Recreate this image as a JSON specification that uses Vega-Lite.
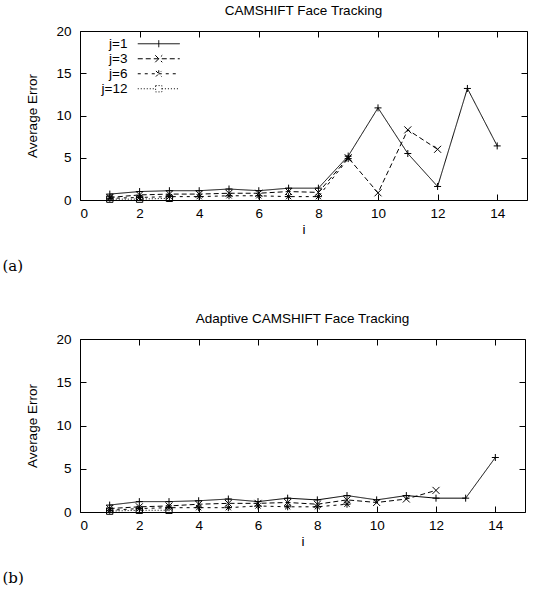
{
  "$schema": "https://vega.github.io/schema/vega-lite/v6.json",
  "padding": {"left": 2, "top": 3, "right": 2, "bottom": 2},
  "background": "white",
  "config": {
    "font": "Liberation Sans",
    "view": {"stroke": "black", "strokeWidth": 1},
    "axis": {"grid": false, "domain": false, "tickColor": "black", "tickSize": -6, "labelColor": "black", "labelFontSize": 13.5, "titleFontSize": 13.5, "titleFontWeight": "normal", "titleColor": "black", "labelFont": "Liberation Sans", "titleFont": "Liberation Sans"},
    "title": {"fontSize": 13.5, "fontWeight": "normal", "font": "Liberation Sans", "color": "black"},
    "legend": {"symbolSize": 49, "symbolStrokeColor": "black", "symbolStrokeWidth": 1, "labelAlign": "right", "labelOffset": -38, "labelFontSize": 13.5, "labelColor": "black", "rowPadding": 0, "labelFont": "Liberation Sans"},
    "concat": {"spacing": 37}
  },
  "datasets": {
    "a": [
      {"i":1,"err":0.7,"j":"j=1"},{"i":2,"err":1.0,"j":"j=1"},{"i":3,"err":1.1,"j":"j=1"},{"i":4,"err":1.1,"j":"j=1"},{"i":5,"err":1.3,"j":"j=1"},{"i":6,"err":1.1,"j":"j=1"},{"i":7,"err":1.4,"j":"j=1"},{"i":8,"err":1.4,"j":"j=1"},{"i":9,"err":5.2,"j":"j=1"},{"i":10,"err":10.9,"j":"j=1"},{"i":11,"err":5.5,"j":"j=1"},{"i":12,"err":1.6,"j":"j=1"},{"i":13,"err":13.2,"j":"j=1"},{"i":14,"err":6.4,"j":"j=1"},
      {"i":1,"err":0.3,"j":"j=3"},{"i":2,"err":0.6,"j":"j=3"},{"i":3,"err":0.7,"j":"j=3"},{"i":4,"err":0.7,"j":"j=3"},{"i":5,"err":0.8,"j":"j=3"},{"i":6,"err":0.8,"j":"j=3"},{"i":7,"err":1.0,"j":"j=3"},{"i":8,"err":0.9,"j":"j=3"},{"i":9,"err":5.0,"j":"j=3"},{"i":10,"err":0.85,"j":"j=3"},{"i":11,"err":8.3,"j":"j=3"},{"i":12,"err":6.0,"j":"j=3"},
      {"i":1,"err":0.2,"j":"j=6"},{"i":2,"err":0.3,"j":"j=6"},{"i":3,"err":0.4,"j":"j=6"},{"i":4,"err":0.4,"j":"j=6"},{"i":5,"err":0.5,"j":"j=6"},{"i":6,"err":0.5,"j":"j=6"},{"i":7,"err":0.4,"j":"j=6"},{"i":8,"err":0.4,"j":"j=6"},{"i":9,"err":4.9,"j":"j=6"},
      {"i":1,"err":0.1,"j":"j=12"},{"i":2,"err":0.1,"j":"j=12"},{"i":3,"err":0.2,"j":"j=12"}
    ],
    "b": [
      {"i":1,"err":0.8,"j":"j=1"},{"i":2,"err":1.2,"j":"j=1"},{"i":3,"err":1.2,"j":"j=1"},{"i":4,"err":1.3,"j":"j=1"},{"i":5,"err":1.5,"j":"j=1"},{"i":6,"err":1.2,"j":"j=1"},{"i":7,"err":1.6,"j":"j=1"},{"i":8,"err":1.4,"j":"j=1"},{"i":9,"err":1.9,"j":"j=1"},{"i":10,"err":1.4,"j":"j=1"},{"i":11,"err":1.9,"j":"j=1"},{"i":12,"err":1.6,"j":"j=1"},{"i":13,"err":1.6,"j":"j=1"},{"i":14,"err":6.3,"j":"j=1"},
      {"i":1,"err":0.4,"j":"j=3"},{"i":2,"err":0.6,"j":"j=3"},{"i":3,"err":0.7,"j":"j=3"},{"i":4,"err":0.9,"j":"j=3"},{"i":5,"err":1.0,"j":"j=3"},{"i":6,"err":1.0,"j":"j=3"},{"i":7,"err":1.1,"j":"j=3"},{"i":8,"err":0.9,"j":"j=3"},{"i":9,"err":1.4,"j":"j=3"},{"i":10,"err":1.1,"j":"j=3"},{"i":11,"err":1.5,"j":"j=3"},{"i":12,"err":2.5,"j":"j=3"},
      {"i":1,"err":0.2,"j":"j=6"},{"i":2,"err":0.4,"j":"j=6"},{"i":3,"err":0.5,"j":"j=6"},{"i":4,"err":0.5,"j":"j=6"},{"i":5,"err":0.5,"j":"j=6"},{"i":6,"err":0.7,"j":"j=6"},{"i":7,"err":0.6,"j":"j=6"},{"i":8,"err":0.6,"j":"j=6"},{"i":9,"err":0.9,"j":"j=6"},
      {"i":1,"err":0.1,"j":"j=12"},{"i":2,"err":0.2,"j":"j=12"},{"i":3,"err":0.2,"j":"j=12"}
    ]
  },
  "vconcat": [
    {
      "title": {"text": "(a)", "orient": "bottom", "anchor": "start", "frame": "bounds", "font": "DejaVu Serif", "fontSize": 15, "dx": -23, "offset": 22},
      "vconcat": [
        {
          "title": {"text": "CAMSHIFT Face Tracking", "offset": 7},
          "width": 447,
          "height": 169,
          "data": {"name": "a"},
          "resolve": {"axis": {"x": "independent", "y": "independent"}},
          "layer": [
            {
              "mark": {"type": "line", "color": "black", "strokeWidth": 1},
              "encoding": {
                "x": {"field": "i", "type": "quantitative", "scale": {"domain": [0, 15], "nice": false}, "axis": {"orient": "bottom", "values": [0,2,4,6,8,10,12,14], "title": "i", "labelPadding": 12, "titlePadding": 3}},
                "y": {"field": "err", "type": "quantitative", "scale": {"domain": [0, 20], "nice": false}, "axis": {"orient": "left", "values": [0,5,10,15,20], "title": "Average Error", "labelPadding": 15, "titlePadding": 16}},
                "strokeDash": {"field": "j", "type": "nominal", "scale": {"domain": ["j=1","j=3","j=6","j=12"], "range": [[1,0],[5,3],[3,4],[1,2]]},
                  "legend": {"title": null, "orient": "none", "legendX": 72, "legendY": 6,
                    "encode": {"symbols": {"update": {"shape": {"signal": "datum.value === 'j=1' ? 'M-6,0H6M0,-1V1' : datum.value === 'j=3' ? 'M-6,0H6M-1,-1L1,1M-1,1L1,-1' : datum.value === 'j=6' ? 'M-6,0H6M0,-1V1M-0.8,-0.8L0.8,0.8M-0.8,0.8L0.8,-0.8' : 'M-6,0H-0.9M0.9,0H6M-0.9,-0.9H0.9V0.9H-0.9Z'"}, "fill": {"value": "transparent"}, "stroke": {"value": "black"}}}}}}
              }
            },
            {
              "transform": [{"filter": "datum.j === 'j=1'"}],
              "mark": {"type": "point", "filled": false, "color": "black", "strokeWidth": 1, "size": 49, "opacity": 1, "shape": "M-1,0H1M0,-1V1"},
              "encoding": {"x": {"field": "i", "type": "quantitative", "axis": null}, "y": {"field": "err", "type": "quantitative", "axis": null}}
            },
            {
              "transform": [{"filter": "datum.j === 'j=3'"}],
              "mark": {"type": "point", "filled": false, "color": "black", "strokeWidth": 1, "size": 49, "opacity": 1, "shape": "M-1,-1L1,1M-1,1L1,-1"},
              "encoding": {"x": {"field": "i", "type": "quantitative", "axis": null}, "y": {"field": "err", "type": "quantitative", "axis": null}}
            },
            {
              "transform": [{"filter": "datum.j === 'j=6'"}],
              "mark": {"type": "point", "filled": false, "color": "black", "strokeWidth": 1, "size": 49, "opacity": 1, "shape": "M-1,0H1M0,-1V1M-0.75,-0.75L0.75,0.75M-0.75,0.75L0.75,-0.75"},
              "encoding": {"x": {"field": "i", "type": "quantitative", "axis": null}, "y": {"field": "err", "type": "quantitative", "axis": null}}
            },
            {
              "transform": [{"filter": "datum.j === 'j=12'"}],
              "mark": {"type": "point", "filled": false, "color": "black", "strokeWidth": 1, "size": 40, "opacity": 1, "shape": "square"},
              "encoding": {"x": {"field": "i", "type": "quantitative", "axis": null}, "y": {"field": "err", "type": "quantitative", "axis": null}}
            },
            {
              "mark": {"type": "point", "opacity": 0},
              "encoding": {
                "x": {"field": "i", "type": "quantitative", "axis": {"orient": "top", "values": [0,2,4,6,8,10,12,14], "labels": false, "title": null}},
                "y": {"field": "err", "type": "quantitative", "axis": {"orient": "right", "values": [0,5,10,15,20], "labels": false, "title": null}}
              }
            }
          ]
        }
      ]
    },
    {
      "title": {"text": "(b)", "orient": "bottom", "anchor": "start", "frame": "bounds", "font": "DejaVu Serif", "fontSize": 15, "dx": -23, "offset": 22},
      "vconcat": [
        {
          "title": {"text": "Adaptive CAMSHIFT Face Tracking", "offset": 7},
          "width": 445,
          "height": 173,
          "data": {"name": "b"},
          "resolve": {"axis": {"x": "independent", "y": "independent"}},
          "layer": [
            {
              "mark": {"type": "line", "color": "black", "strokeWidth": 1},
              "encoding": {
                "x": {"field": "i", "type": "quantitative", "scale": {"domain": [0, 15], "nice": false}, "axis": {"orient": "bottom", "values": [0,2,4,6,8,10,12,14], "title": "i", "labelPadding": 12, "titlePadding": 3}},
                "y": {"field": "err", "type": "quantitative", "scale": {"domain": [0, 20], "nice": false}, "axis": {"orient": "left", "values": [0,5,10,15,20], "title": "Average Error", "labelPadding": 15, "titlePadding": 16}},
                "strokeDash": {"field": "j", "type": "nominal", "scale": {"domain": ["j=1","j=3","j=6","j=12"], "range": [[1,0],[5,3],[3,4],[1,2]]},
                  "legend": {"title": null, "orient": "none", "legendX": 72, "legendY": 6,
                    "encode": {"symbols": {"update": {"shape": {"signal": "datum.value === 'j=1' ? 'M-6,0H6M0,-1V1' : datum.value === 'j=3' ? 'M-6,0H6M-1,-1L1,1M-1,1L1,-1' : datum.value === 'j=6' ? 'M-6,0H6M0,-1V1M-0.8,-0.8L0.8,0.8M-0.8,0.8L0.8,-0.8' : 'M-6,0H-0.9M0.9,0H6M-0.9,-0.9H0.9V0.9H-0.9Z'"}, "fill": {"value": "transparent"}, "stroke": {"value": "black"}}}}}}
              }
            },
            {
              "transform": [{"filter": "datum.j === 'j=1'"}],
              "mark": {"type": "point", "filled": false, "color": "black", "strokeWidth": 1, "size": 49, "opacity": 1, "shape": "M-1,0H1M0,-1V1"},
              "encoding": {"x": {"field": "i", "type": "quantitative", "axis": null}, "y": {"field": "err", "type": "quantitative", "axis": null}}
            },
            {
              "transform": [{"filter": "datum.j === 'j=3'"}],
              "mark": {"type": "point", "filled": false, "color": "black", "strokeWidth": 1, "size": 49, "opacity": 1, "shape": "M-1,-1L1,1M-1,1L1,-1"},
              "encoding": {"x": {"field": "i", "type": "quantitative", "axis": null}, "y": {"field": "err", "type": "quantitative", "axis": null}}
            },
            {
              "transform": [{"filter": "datum.j === 'j=6'"}],
              "mark": {"type": "point", "filled": false, "color": "black", "strokeWidth": 1, "size": 49, "opacity": 1, "shape": "M-1,0H1M0,-1V1M-0.75,-0.75L0.75,0.75M-0.75,0.75L0.75,-0.75"},
              "encoding": {"x": {"field": "i", "type": "quantitative", "axis": null}, "y": {"field": "err", "type": "quantitative", "axis": null}}
            },
            {
              "transform": [{"filter": "datum.j === 'j=12'"}],
              "mark": {"type": "point", "filled": false, "color": "black", "strokeWidth": 1, "size": 40, "opacity": 1, "shape": "square"},
              "encoding": {"x": {"field": "i", "type": "quantitative", "axis": null}, "y": {"field": "err", "type": "quantitative", "axis": null}}
            },
            {
              "mark": {"type": "point", "opacity": 0},
              "encoding": {
                "x": {"field": "i", "type": "quantitative", "axis": {"orient": "top", "values": [0,2,4,6,8,10,12,14], "labels": false, "title": null}},
                "y": {"field": "err", "type": "quantitative", "axis": {"orient": "right", "values": [0,5,10,15,20], "labels": false, "title": null}}
              }
            }
          ]
        }
      ]
    }
  ]
}
